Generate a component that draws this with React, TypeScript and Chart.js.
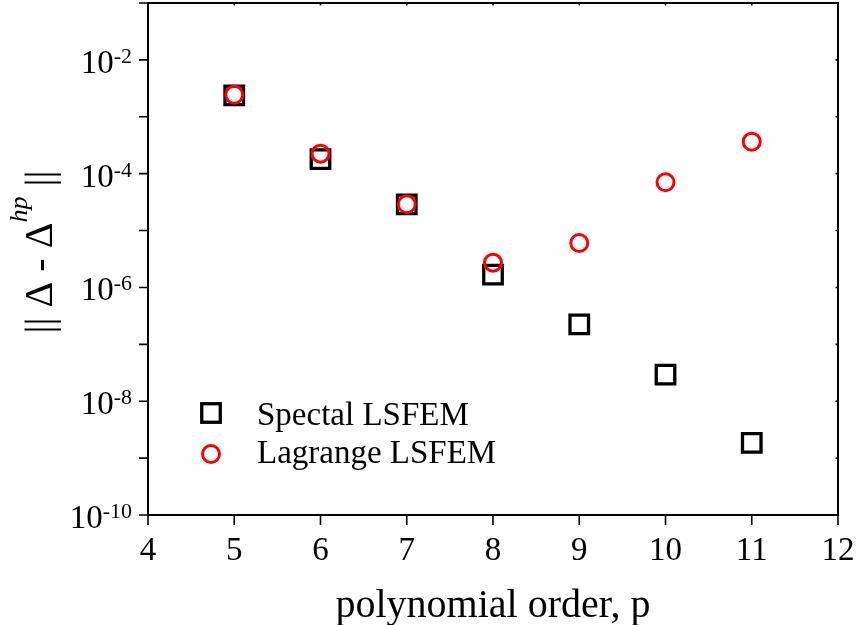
import { useEffect, useRef } from "react";
import { Chart, registerables } from "chart.js";

Chart.register(...registerables);

// polynomial order p and the error norm of each discretisation
const orders = [5, 6, 7, 8, 9, 10, 11];
const spectralErr = [2.37e-3, 1.8e-4, 2.88e-5, 1.68e-6, 2.24e-7, 2.94e-8, 1.85e-9];
const lagrangeErr = [2.44e-3, 2.25e-4, 2.9e-5, 2.73e-6, 6.05e-6, 7.06e-5, 3.65e-4];
const seriesNames = ["Spectal LSFEM", "Lagrange LSFEM"];

// axis ticks
const xTicks = [4, 5, 6, 7, 8, 9, 10, 11, 12];
const yTickExps = [-1, -2, -3, -4, -5, -6, -7, -8, -9, -10];
const yLabelExps = [-2, -4, -6, -8, -10];

const SERIF = '"Liberation Serif", "DejaVu Serif", serif';
const RED = "#ff0000";

const SQUARE_R = 13.1;
const SQUARE_W = 3.3;
const CIRCLE_R = 8.5;
const CIRCLE_W = 3;

const framePlugin = {
  id: "frameAndText",
  afterDraw(chart: any) {
    const { ctx, chartArea } = chart;
    const { left, right, top, bottom } = chartArea;
    const xs = chart.scales.x;
    const ys = chart.scales.y;
    ctx.save();
    ctx.strokeStyle = "#000";
    ctx.fillStyle = "#000";

    // frame
    ctx.lineWidth = 2;
    ctx.strokeRect(left, top, right - left, bottom - top);

    // tick marks
    ctx.lineWidth = 1.6;
    ctx.beginPath();
    for (const v of xTicks) {
      const px = xs.getPixelForValue(v);
      ctx.moveTo(px, bottom);
      ctx.lineTo(px, bottom + 10);
      ctx.moveTo(px, top);
      ctx.lineTo(px, top + 2.5);
    }
    for (const e of yTickExps) {
      const py = ys.getPixelForValue(Math.pow(10, e));
      ctx.moveTo(left, py);
      ctx.lineTo(left - 9, py);
      ctx.moveTo(right, py);
      ctx.lineTo(right - 2.5, py);
    }
    ctx.stroke();

    // x tick labels
    ctx.font = `33px ${SERIF}`;
    ctx.textAlign = "center";
    ctx.textBaseline = "alphabetic";
    for (const v of xTicks) {
      ctx.fillText(String(v), xs.getPixelForValue(v), bottom + 45);
    }

    // y tick labels: 10 with a raised exponent
    ctx.textAlign = "left";
    const labelRight = left - 16;
    for (const e of yLabelExps) {
      const py = ys.getPixelForValue(Math.pow(10, e));
      const sup = String(e);
      ctx.font = `22px ${SERIF}`;
      const supW = ctx.measureText(sup).width;
      ctx.font = `33px ${SERIF}`;
      const baseW = ctx.measureText("10").width;
      ctx.fillText("10", labelRight - supW - baseW, py + 13);
      ctx.font = `22px ${SERIF}`;
      ctx.fillText(sup, labelRight - supW, py + 3);
    }

    // x axis title
    ctx.font = `40px ${SERIF}`;
    ctx.textAlign = "center";
    ctx.fillText("polynomial order, p", (left + right) / 2, bottom + 102);

    // y axis title: || Δ - Δ^hp ||
    const parts = [
      { t: "|| \u0394 - \u0394", f: `40px ${SERIF}`, dy: 0 },
      { t: "hp", f: `italic 26px ${SERIF}`, dy: -25 },
      { t: " ||", f: `40px ${SERIF}`, dy: 0 },
    ];
    let total = 0;
    const widths = parts.map((p) => {
      ctx.font = p.f;
      const w = ctx.measureText(p.t).width;
      total += w;
      return w;
    });
    ctx.save();
    ctx.translate(52, (top + bottom) / 2 - 7);
    ctx.rotate(-Math.PI / 2);
    ctx.textAlign = "left";
    let cx = -total / 2;
    parts.forEach((p, i) => {
      ctx.font = p.f;
      ctx.fillText(p.t, cx, p.dy);
      cx += widths[i];
    });
    ctx.restore();

    // legend
    const lx = 211;
    const sq = SQUARE_R * Math.SQRT1_2;
    ctx.lineWidth = SQUARE_W;
    ctx.strokeStyle = "#000";
    ctx.strokeRect(lx - sq, 413 - sq, 2 * sq, 2 * sq);
    ctx.lineWidth = CIRCLE_W;
    ctx.strokeStyle = RED;
    ctx.beginPath();
    ctx.arc(lx, 454, CIRCLE_R, 0, Math.PI * 2);
    ctx.stroke();
    ctx.fillStyle = "#000";
    ctx.font = `33px ${SERIF}`;
    ctx.textAlign = "left";
    ctx.fillText(seriesNames[0], 257, 425);
    ctx.fillText(seriesNames[1], 257, 463);

    ctx.restore();
  },
};

export default function App() {
  const canvasRef = useRef<HTMLCanvasElement | null>(null);

  useEffect(() => {
    const canvas = canvasRef.current;
    if (!canvas) return;
    const chart = new Chart(canvas, {
      type: "scatter",
      data: {
        datasets: [
          {
            label: seriesNames[0],
            data: orders.map((p, i) => ({ x: p, y: spectralErr[i] })),
            pointStyle: "rect",
            pointRadius: SQUARE_R,
            pointHoverRadius: SQUARE_R,
            pointBorderWidth: SQUARE_W,
            pointHoverBorderWidth: SQUARE_W,
            borderColor: "#000",
            backgroundColor: "rgba(0,0,0,0)",
            showLine: false,
            order: 2,
            clip: false as any,
          },
          {
            label: seriesNames[1],
            data: orders.map((p, i) => ({ x: p, y: lagrangeErr[i] })),
            pointStyle: "circle",
            pointRadius: CIRCLE_R,
            pointHoverRadius: CIRCLE_R,
            pointBorderWidth: CIRCLE_W,
            pointHoverBorderWidth: CIRCLE_W,
            borderColor: RED,
            backgroundColor: "rgba(0,0,0,0)",
            showLine: false,
            order: 1,
            clip: false as any,
          },
        ],
      },
      options: {
        animation: false,
        responsive: false,
        devicePixelRatio: 1,
        layout: { autoPadding: false, padding: { top: 3, right: 21, left: 0, bottom: 0 } },
        plugins: {
          legend: { display: false },
          tooltip: { enabled: false },
        },
        events: [],
        scales: {
          x: {
            type: "linear",
            min: 4,
            max: 12,
            grid: { display: false },
            border: { display: false },
            ticks: { display: false },
            afterFit: (s: any) => {
              s.height = 110;
            },
          },
          y: {
            type: "logarithmic",
            min: 1e-10,
            max: 1e-1,
            grid: { display: false },
            border: { display: false },
            ticks: { display: false },
            afterFit: (s: any) => {
              s.width = 148;
            },
          },
        },
      },
      plugins: [framePlugin],
    });
    return () => chart.destroy();
  }, []);

  return (
    <div style={{ position: "absolute", left: 0, top: 0, width: 859, height: 625, background: "#fff" }}>
      <canvas ref={canvasRef} width={859} height={625} style={{ display: "block" }} />
    </div>
  );
}
